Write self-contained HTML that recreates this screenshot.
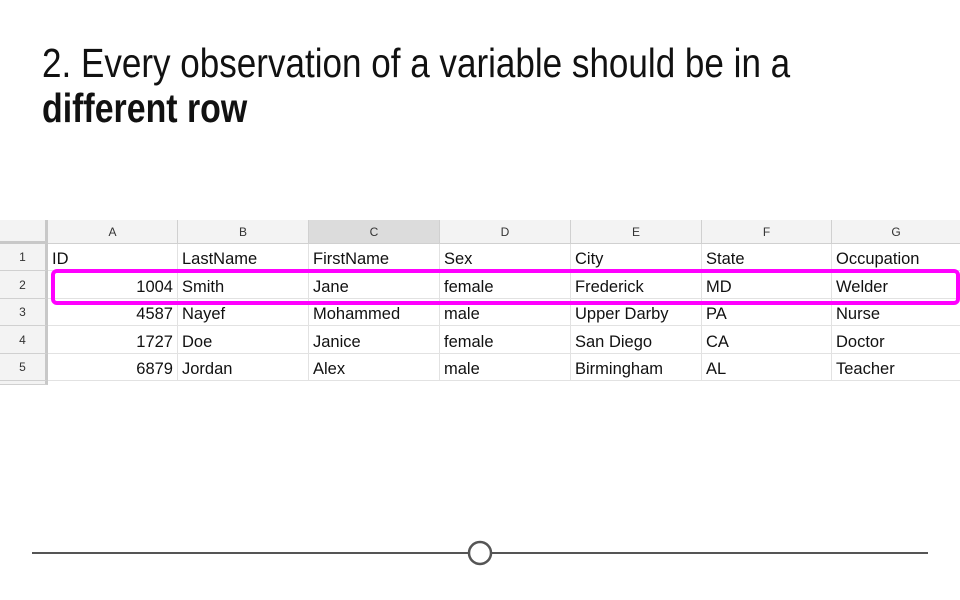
<!DOCTYPE html>
<html><head><meta charset="utf-8"><style>
body{margin:0;width:960px;height:600px;background:#fff;position:relative;overflow:hidden;font-family:"Liberation Sans",sans-serif}
.t{position:absolute;left:42px;font-family:"Liberation Sans Narrow","Liberation Sans",sans-serif;font-size:41px;color:#111;white-space:nowrap;transform-origin:0 0}
.sheet{position:absolute;left:0;top:220px}
.c{position:absolute;box-sizing:border-box;border-right:1px solid #e2e2e2;border-bottom:1px solid #e2e2e2;font-size:16.5px;color:#111;white-space:nowrap;overflow:hidden;padding:0 4px;line-height:30px}
.h{background:#f3f3f3;color:#333;font-size:12px;text-align:center;line-height:24px;border-color:#d0d0d0}
.rn{background:#f3f3f3;color:#333;font-size:12px;text-align:center;border-color:#d0d0d0}
</style></head><body>
<div class="t" id="t1" style="top:40px">2. Every observation of a variable should be in a</div>
<div class="t" id="t2" style="top:85px;font-weight:bold">different row</div>
<div class="sheet" id="sheet"></div>
<div style="position:absolute;left:51px;top:269px;width:909px;height:36px;box-sizing:border-box;border:4px solid #ff00ff;border-radius:6px"></div>
<svg style="position:absolute;left:0;top:0" width="960" height="600">
<line x1="32" y1="553" x2="468" y2="553" stroke="#555" stroke-width="2"/>
<line x1="492" y1="553" x2="928" y2="553" stroke="#555" stroke-width="2"/>
<circle cx="480" cy="553" r="11" fill="#fff" stroke="#555" stroke-width="2.5"/>
</svg>
<script>
function fit(id,w){var e=document.getElementById(id);var s=w/e.offsetWidth;e.style.transform='scaleX('+s+')';}
fit('t1',748);fit('t2',205);
const cols=['A','B','C','D','E','F','G'];
const colX=[48,178,309,440,571,702,832,961];
const rows=[['ID','LastName','FirstName','Sex','City','State','Occupation'],
['1004','Smith','Jane','female','Frederick','MD','Welder'],
['4587','Nayef','Mohammed','male','Upper Darby','PA','Nurse'],
['1727','Doe','Janice','female','San Diego','CA','Doctor'],
['6879','Jordan','Alex','male','Birmingham','AL','Teacher']];
const sh=document.getElementById('sheet');
function mk(cls,x,y,w,h,txt){const d=document.createElement('div');d.className='c '+cls;d.style.left=x+'px';d.style.top=y+'px';d.style.width=w+'px';d.style.height=h+'px';d.textContent=txt;sh.appendChild(d);return d;}
let corner=mk('h',0,0,48,24,'');corner.style.borderRight='3px solid #c8c8c8';corner.style.borderBottom='3px solid #c8c8c8';


cols.forEach((c,i)=>{const d=mk('h',colX[i],0,colX[i+1]-colX[i],24,c);if(i==2)d.style.background='#dcdcdc';

});
const rh=27.4;
rows.forEach((r,ri)=>{const y=Math.round(24+ri*rh),h=Math.round(24+(ri+1)*rh)-y;
const n=mk('rn',0,y,48,h,String(ri+1));n.style.lineHeight=h+'px';n.style.borderRight='3px solid #c8c8c8';


r.forEach((v,ci)=>{const d=mk('',colX[ci],y,colX[ci+1]-colX[ci],h,v);d.style.lineHeight=(h+4)+'px';
if(ci==0&&ri>0)d.style.textAlign='right';

});});
const y6=Math.round(24+5*rh);
const n6=mk('rn',0,y6,48,4,'');n6.style.borderRight='3px solid #c8c8c8';


</script>
</body></html>
